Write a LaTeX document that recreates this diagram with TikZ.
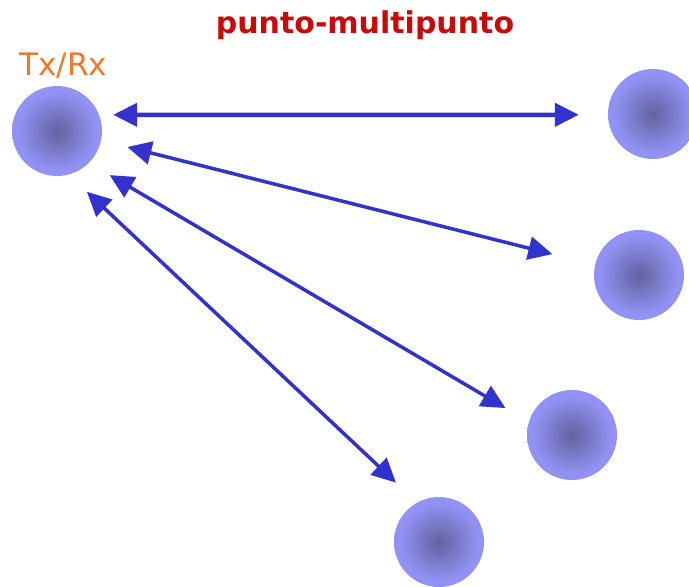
\documentclass[tikz,border=0pt]{standalone}
\usepackage{fontspec}
\setmainfont{DejaVu Sans}
\usetikzlibrary{arrows.meta, positioning}
\definecolor{linkblue}{HTML}{3232CC}
\definecolor{titlered}{HTML}{C80A0A}
\definecolor{txorange}{HTML}{F0782A}
\definecolor{blobin}{HTML}{6262A2}
\definecolor{blobmid}{HTML}{7878C6}
\definecolor{blobout}{HTML}{9292F4}
\pgfdeclareradialshading{blob}{\pgfpoint{0bp}{0bp}}{color(0bp)=(blobin); color(10bp)=(blobmid); color(22bp)=(blobout); color(50bp)=(blobout)}

\begin{document}
\begin{tikzpicture}[
    x=1pt, y=-1pt,
    station/.style={
      circle,
      minimum size=90pt,
      inner sep=0pt,
      shade,
      shading=blob
    },
    caption/.style={
      anchor=base,
      inner sep=0pt
    },
    arrow/.style={{Triangle[length=24pt,width=23pt]}-{Triangle[length=24pt,width=23pt]}, line width=3.5pt, draw=linkblue}
  ]
    \path[use as bounding box, fill=white] (0,0) rectangle (689,587);

    \node[caption, font=\bfseries\fontsize{30}{30}\selectfont, text=titlered] (title) at (365,33) {punto-multipunto};

    \node[station] (tx) at (57,131) {};
    \node[caption, font=\fontsize{31}{31}\selectfont, text=txorange] (txlabel) at (63.5,75) {Tx/Rx};

    \node[station] (r1) at (653,114) {};
    \node[station] (r2) at (639,275) {};
    \node[station] (r3) at (572,435) {};
    \node[station] (r4) at (439,542) {};

    \draw[arrow, line width=4.5pt, shorten <=14pt, shorten >=29pt] (tx.21) -- (r1.181);
    \draw[arrow, shorten <=27pt, shorten >=44pt] (tx.-12) -- (r2.167);
    \draw[arrow, shorten <=24pt, shorten >=27pt] (tx.-45) -- (r3.163);
    \draw[arrow, shorten <=25pt, shorten >=29pt] (tx.-75) -- (r4.119);
  \end{tikzpicture}
\end{document}
